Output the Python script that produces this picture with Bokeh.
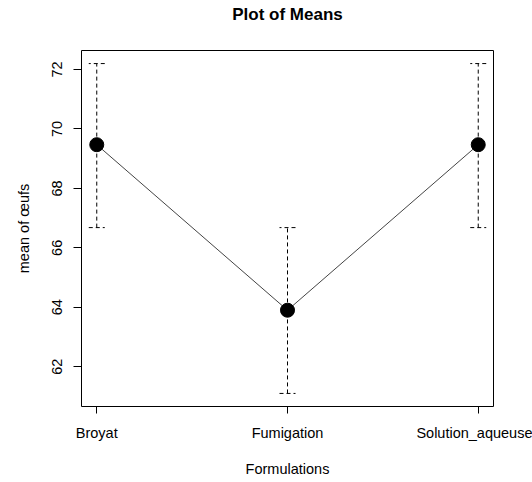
from bokeh.plotting import figure
from bokeh.models import ColumnDataSource, FixedTicker, Range1d, Whisker, TeeHead
from bokeh.embed import file_html
from bokeh.resources import INLINE

categories = ["Broyat", "Fumigation", "Solution_aqueuse"]
means = [69.47, 63.90, 69.47]
lower = [66.68, 61.10, 66.68]
upper = [72.20, 66.68, 72.20]
y_ticks = [62, 64, 66, 68, 70, 72]

xs = [i + 1 for i in range(len(categories))]
src = ColumnDataSource(dict(x=xs, mean=means, lower=lower, upper=upper))

FONT = "Liberation Sans"

p = figure(frame_width=412, frame_height=356, output_backend="svg",
           toolbar_location=None, title="Plot of Means",
           x_range=Range1d(0.92, 3.08), y_range=Range1d(60.66, 72.64),
           min_border_left=81, min_border_right=39, min_border_top=50,
           min_border_bottom=76)
p.background_fill_color = "white"
p.border_fill_color = "white"
p.outline_line_color = "black"
p.outline_line_width = 1
p.outline_line_alpha = 1
p.grid.visible = False

p.title.text_font = FONT
p.title.text_font_size = "17px"
p.title.text_font_style = "bold"
p.title.text_color = "black"
p.title.align = "center"
p.title.standoff = 0
p.title.padding = dict(left=0, right=0, top=0, bottom=27)

xa = p.xaxis[0]
xa.ticker = FixedTicker(ticks=xs)
xa.major_label_overrides = {x: c for x, c in zip(xs, categories)}
xa.minor_tick_line_color = None
xa.axis_line_color = None
xa.major_tick_in = 0
xa.major_tick_out = 7
xa.major_tick_line_color = "black"
xa.major_label_standoff = 11
xa.major_label_text_font = FONT
xa.major_label_text_font_size = "14.5px"
xa.major_label_text_color = "black"
xa.axis_label = "Formulations"
xa.axis_label_text_font = FONT
xa.axis_label_text_font_size = "14.5px"
xa.axis_label_text_font_style = "normal"
xa.axis_label_text_color = "black"
xa.axis_label_standoff = 17

ya = p.yaxis[0]
ya.ticker = FixedTicker(ticks=y_ticks)
ya.minor_tick_line_color = None
ya.axis_line_color = None
ya.major_tick_in = 0
ya.major_tick_out = 8
ya.major_tick_line_color = "black"
ya.major_label_orientation = "vertical"
ya.major_label_standoff = 11
ya.major_label_text_font = FONT
ya.major_label_text_font_size = "14.5px"
ya.major_label_text_color = "black"
ya.axis_label = "mean of œufs"
ya.axis_label_text_font = FONT
ya.axis_label_text_font_size = "14.5px"
ya.axis_label_text_font_style = "normal"
ya.axis_label_text_color = "black"
ya.axis_label_standoff = 18

w = Whisker(source=src, base="x", lower="lower", upper="upper",
            line_color="black", line_width=1, line_dash="4 3",
            upper_head=TeeHead(size=16, line_color="black", line_width=1, line_dash="4 3"),
            lower_head=TeeHead(size=16, line_color="black", line_width=1, line_dash="4 3"))
p.add_layout(w)

p.line("x", "mean", source=src, line_color="#444444", line_width=1)
p.scatter("x", "mean", source=src, size=14, fill_color="black", line_color="black")

open("out.html", "w").write(file_html(p, INLINE))
